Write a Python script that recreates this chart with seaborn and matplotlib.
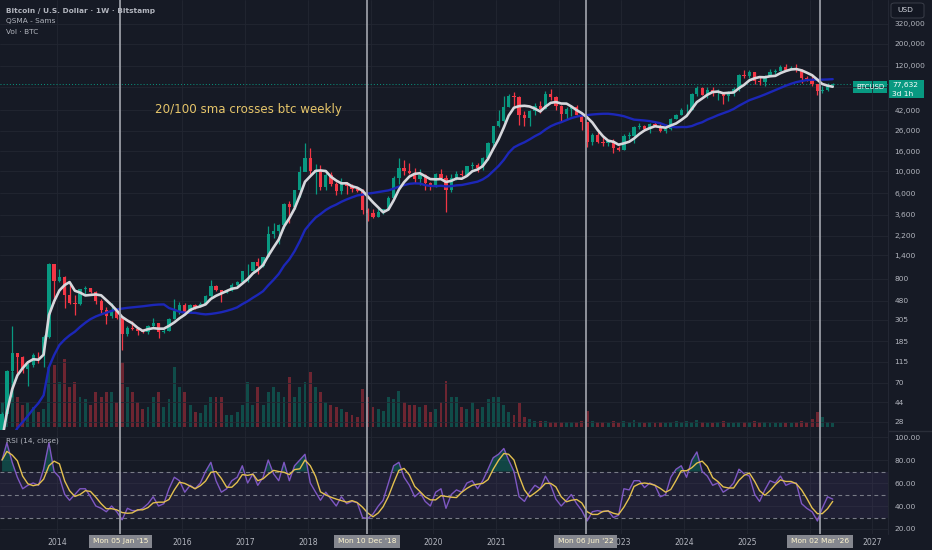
import numpy as np
import pandas as pd
import matplotlib
matplotlib.use('Agg')
import matplotlib.pyplot as plt
import matplotlib.dates as mdates
from matplotlib.patches import Rectangle, FancyBboxPatch
from matplotlib.lines import Line2D
from matplotlib.ticker import NullLocator
import seaborn as sns

# ---------------- data (monthly) ----------------
# monthly closes from Jan 2011 (warm-up for the moving averages) to May 2026
close_2011 = [0.52, 0.86, 0.78, 3.5, 8.7, 16.1, 13.4, 8.2, 5.1, 3.2, 3.0, 4.7]
close_2012 = [5.5, 4.9, 4.9, 5.0, 5.2, 6.7, 9.3, 10.2, 12.4, 11.2, 12.6, 13.5]
close_2013 = [20.4, 33.4, 93, 139, 129, 97, 106, 135, 133, 204, 1130, 757]
close_2014 = [830, 550, 450, 445, 630, 640, 585, 480, 387, 338, 378, 320]
close_2015 = [217, 254, 244, 236, 230, 264, 284, 230, 236, 314, 377, 430]
close_2016 = [369, 437, 416, 448, 531, 673, 624, 575, 608, 698, 742, 963]
close_2017 = [970, 1190, 1080, 1350, 2300, 2480, 2875, 4700, 4340, 6470, 9950, 13800]
close_2018 = [10200, 10330, 6930, 9240, 7490, 6390, 7730, 7030, 6630, 6370, 4020, 3740]
close_2019 = [3460, 3850, 4100, 5320, 8560, 10800, 10080, 9600, 8300, 9150, 7550, 7190]
close_2020 = [9350, 8540, 6420, 8630, 9450, 9140, 11350, 11660, 10780, 13800, 19700, 28950]
close_2021 = [33100, 45200, 58800, 57700, 37300, 35000, 41500, 47100, 43800, 61300, 57000, 46200]
close_2022 = [38500, 43200, 45500, 37700, 31800, 19900, 23300, 20050, 19430, 20500, 17170, 16550]
close_2023 = [23140, 23150, 28480, 29250, 27220, 30480, 29230, 25930, 26970, 34650, 37720, 42270]
close_2024 = [42580, 61180, 71290, 60640, 67500, 62680, 64620, 58970, 63330, 70220, 96450, 93430]
close_2025 = [102400, 84350, 82550, 94200, 104600, 107100, 115700, 108200, 114000, 109500, 90400, 87500]
close_2026 = [78600, 66000, 68200, 75500, 77632]

# monthly highs / lows of the drawn candles, Feb 2013 .. May 2026
high_2013 = [35, 95, 266, 140, 130, 110, 140, 145, 215, 1160, 1150]
low_2013 = [20, 33, 50, 80, 88, 65, 100, 110, 100, 200, 450]
high_2014 = [1000, 850, 700, 550, 630, 680, 650, 600, 500, 415, 460, 390]
low_2014 = [750, 400, 440, 340, 430, 560, 575, 440, 360, 275, 320, 310]
high_2015 = [320, 265, 300, 260, 245, 270, 320, 285, 245, 320, 500, 465]
low_2015 = [150, 210, 240, 215, 225, 218, 255, 198, 225, 235, 310, 350]
high_2016 = [460, 445, 440, 470, 550, 780, 700, 620, 630, 720, 760, 975]
low_2016 = [350, 365, 395, 412, 440, 525, 600, 470, 570, 600, 680, 740]
high_2017 = [1150, 1200, 1300, 1350, 2760, 2980, 2920, 4770, 5000, 6500, 11400, 19650]
low_2017 = [750, 920, 900, 1060, 1350, 2080, 1800, 2670, 2950, 4100, 5520, 10000]
high_2018 = [17200, 11800, 11700, 9750, 9950, 7780, 8500, 7750, 7400, 7000, 6550, 4250]
low_2018 = [9000, 5900, 6450, 6500, 7050, 5750, 5850, 5850, 6120, 6200, 3650, 3120]
high_2019 = [4100, 4200, 4150, 5600, 9000, 13800, 13200, 12300, 10900, 10500, 9500, 7750]
low_2019 = [3350, 3400, 3680, 4080, 5300, 7450, 9100, 9350, 7700, 7300, 6500, 6450]
high_2020 = [9570, 10500, 9180, 9450, 10050, 10400, 11450, 12470, 12070, 14000, 19900, 29300]
low_2020 = [6880, 8450, 3850, 6150, 8100, 8900, 8950, 10600, 9900, 10400, 13200, 17600]
high_2021 = [41950, 58300, 61700, 64900, 59500, 41300, 42300, 50500, 52900, 67000, 69000, 59000]
low_2021 = [28150, 32300, 45000, 47000, 30000, 28800, 29300, 37700, 39600, 43300, 53300, 42000]
high_2022 = [47900, 45800, 48200, 47400, 39900, 31900, 24700, 25200, 22800, 21000, 21500, 18400]
low_2022 = [32900, 34300, 37200, 37600, 26700, 17600, 18800, 19600, 18150, 18200, 15500, 16250]
high_2023 = [23950, 25250, 29200, 31000, 29800, 31400, 31800, 30200, 27500, 35200, 38400, 44700]
low_2023 = [16500, 21400, 19550, 26950, 25800, 24800, 28900, 25150, 24900, 26550, 34100, 37600]
high_2024 = [49000, 63900, 73800, 72800, 71950, 72000, 70000, 65100, 66500, 73600, 99600, 108300]
low_2024 = [38500, 41900, 59100, 59600, 56500, 58400, 53500, 49000, 52550, 58900, 66800, 90500]
high_2025 = [109300, 102500, 95000, 95700, 112000, 110500, 123200, 124400, 117900, 126200, 111000, 94600]
low_2025 = [89200, 78200, 76600, 74400, 93400, 98200, 105100, 107300, 107300, 103500, 80600, 84400]
high_2026 = [97500, 79000, 74500, 80000, 80500]
low_2026 = [75000, 60000, 63000, 66000, 74000]

# volume (relative bar height), Feb 2013 .. May 2026
vol_2013 = [25, 40, 55, 30, 22, 25, 20, 15, 18, 60, 62]
vol_2014 = [45, 68, 40, 45, 30, 28, 22, 35, 30, 35, 35, 25]
vol_2015 = [65, 40, 35, 25, 18, 20, 30, 35, 20, 28, 60, 40]
vol_2016 = [35, 22, 15, 14, 22, 30, 30, 30, 12, 12, 15, 22]
vol_2017 = [45, 22, 40, 22, 35, 40, 35, 30, 50, 30, 40, 45]
vol_2018 = [55, 40, 35, 25, 22, 20, 18, 15, 12, 10, 38, 30]
vol_2019 = [20, 18, 16, 30, 28, 36, 25, 22, 22, 20, 22, 15]
vol_2020 = [18, 25, 46, 30, 30, 20, 18, 25, 18, 20, 28, 30]
vol_2021 = [30, 22, 15, 12, 24, 10, 8, 6, 6, 6, 5, 5]
vol_2022 = [5, 5, 5, 5, 6, 16, 6, 5, 5, 4, 6, 4]
vol_2023 = [6, 5, 7, 5, 4, 5, 4, 5, 4, 5, 6, 5]
vol_2024 = [6, 5, 7, 5, 4, 4, 5, 6, 4, 4, 5, 5]
vol_2025 = [5, 6, 5, 5, 4, 4, 4, 4, 4, 5, 6, 5]
vol_2026 = [8, 15, 10, 5, 4]

# RSI(14) values, Feb 2013 .. May 2026
rsi_2013 = [80, 95, 78, 65, 55, 58, 60, 58, 72, 95, 70]
rsi_2014 = [65, 50, 45, 50, 55, 55, 48, 40, 38, 35, 40, 35]
rsi_2015 = [28, 38, 36, 36, 38, 42, 48, 40, 42, 55, 65, 62]
rsi_2016 = [52, 58, 55, 60, 70, 78, 62, 52, 55, 62, 65, 75]
rsi_2017 = [60, 68, 58, 65, 80, 68, 62, 78, 62, 75, 80, 85]
rsi_2018 = [60, 52, 45, 52, 46, 40, 48, 42, 44, 43, 30, 29]
rsi_2019 = [33, 40, 45, 60, 75, 78, 65, 58, 48, 52, 44, 40]
rsi_2020 = [52, 55, 38, 50, 54, 52, 60, 62, 55, 62, 72, 82]
rsi_2021 = [85, 90, 80, 70, 48, 44, 52, 58, 55, 66, 58, 46]
rsi_2022 = [40, 45, 50, 42, 36, 27, 35, 36, 35, 36, 30, 32]
rsi_2023 = [55, 54, 62, 62, 56, 60, 58, 48, 50, 65, 72, 75]
rsi_2024 = [65, 80, 87, 70, 66, 58, 60, 52, 55, 60, 72, 68]
rsi_2025 = [66, 50, 44, 54, 62, 60, 66, 58, 60, 60, 42, 38]
rsi_2026 = [35, 27, 38, 48, 46]

price_ticks = [28, 44, 70, 115, 185, 305, 480, 800, 1400, 2200, 3600, 6000,
               10000, 16000, 26000, 42000, 72000, 120000, 200000, 320000]
rsi_ticks = [20, 40, 60, 80, 100]
year_ticks = list(range(2014, 2028))
hidden_years = [2015, 2019, 2022, 2026]   # covered by the date boxes
marker_dates = ['2015-01-05', '2018-12-10', '2022-06-06', '2026-03-02']
marker_labels = ["Mon 05 Jan '15", "Mon 10 Dec '18", "Mon 06 Jun '22", "Mon 02 Mar '26"]
last_price = 77632

# ---------------- assemble ----------------
close_all = (close_2011 + close_2012 + close_2013 + close_2014 + close_2015 + close_2016 +
             close_2017 + close_2018 + close_2019 + close_2020 + close_2021 + close_2022 +
             close_2023 + close_2024 + close_2025 + close_2026)
highs = (high_2013 + high_2014 + high_2015 + high_2016 + high_2017 + high_2018 + high_2019 +
         high_2020 + high_2021 + high_2022 + high_2023 + high_2024 + high_2025 + high_2026)
lows = (low_2013 + low_2014 + low_2015 + low_2016 + low_2017 + low_2018 + low_2019 +
        low_2020 + low_2021 + low_2022 + low_2023 + low_2024 + low_2025 + low_2026)
vols = (vol_2013 + vol_2014 + vol_2015 + vol_2016 + vol_2017 + vol_2018 + vol_2019 +
        vol_2020 + vol_2021 + vol_2022 + vol_2023 + vol_2024 + vol_2025 + vol_2026)
rsi = (rsi_2013 + rsi_2014 + rsi_2015 + rsi_2016 + rsi_2017 + rsi_2018 + rsi_2019 +
       rsi_2020 + rsi_2021 + rsi_2022 + rsi_2023 + rsi_2024 + rsi_2025 + rsi_2026)

months = pd.date_range('2011-01-01', periods=len(close_all), freq='MS') + pd.Timedelta(days=14)
close_s = pd.Series(close_all, index=months, dtype=float)
sma20 = close_s.rolling(5).mean()     # 20 weeks ~ 5 months
sma100 = close_s.rolling(23).mean()   # 100 weeks ~ 23 months

start = 25  # Feb 2013
cdates = months[start:]
closes = np.array(close_all[start:], dtype=float)
opens = np.array(close_all[start - 1:-1], dtype=float)
highs = np.array(highs, dtype=float)
lows = np.array(lows, dtype=float)
vols = np.array(vols, dtype=float)
rsi_s = pd.Series(rsi, index=cdates, dtype=float)
rsi_ma = rsi_s.rolling(3, min_periods=1).mean()

df_sma = pd.DataFrame({'date': months, 'sma20': sma20.values, 'sma100': sma100.values})
df_rsi = pd.DataFrame({'date': cdates, 'rsi': rsi_s.values, 'ma': rsi_ma.values})

# ---------------- style ----------------
BG = '#161a25'
GRID = '#222632'
TXT = '#b2b5be'
GREEN = '#089981'
RED = '#f23645'
W, H = 932, 550

sns.set_theme(style='dark', rc={'axes.facecolor': BG, 'figure.facecolor': BG})
plt.rcParams['font.family'] = ['DejaVu Sans']

fig = plt.figure(figsize=(W / 100, H / 100), dpi=100, facecolor=BG)

def fx(x):
    return x / W

def fy(y):
    return 1 - y / H

ax = fig.add_axes([0, fy(430), fx(888), 430 / H])
ax_rsi = fig.add_axes([0, fy(534), fx(888), 104 / H], sharex=ax)
ax_vol = ax.twinx()
ax_vol.set_zorder(1)
ax.set_zorder(2)
ax_rsi.set_zorder(2)
for a in (ax, ax_vol):
    a.patch.set_visible(False)
ax_rsi.set_facecolor(BG)

xmin = mdates.date2num(pd.Timestamp('2013-02-03'))
xmax = mdates.date2num(pd.Timestamp('2027-04-02'))

# ---- volume ----
up = closes >= opens
vcolors = [GREEN if u else RED for u in up]
ax_vol.bar(cdates, vols, width=17, color=vcolors, alpha=0.4, linewidth=0)
ax_vol.set_ylim(-3, 427)
ax_vol.set_yticks([])
ax_vol.grid(False)

# ---- candles ----
ccolors = [GREEN if u else RED for u in up]
ax.vlines(cdates, lows, highs, colors=ccolors, linewidth=0.9, zorder=3)
body_bottom = np.minimum(opens, closes)
body_h = np.maximum(np.abs(closes - opens), body_bottom * 0.01)
ax.bar(cdates, body_h, bottom=body_bottom, width=19, color=ccolors, linewidth=0, zorder=3)

# ---- moving averages ----
sns.lineplot(data=df_sma, x='date', y='sma100', ax=ax, color='#1c27b8', linewidth=1.7,
             legend=False, zorder=4)
sns.lineplot(data=df_sma, x='date', y='sma20', ax=ax, color='#d6d7dc', linewidth=1.9,
             legend=False, zorder=5)

ax.set_yscale('log')
ax.set_ylim(23, 562000)
ax.set_xlim(xmin, xmax)
ax.axhline(last_price, color=GREEN, linestyle=(0, (1, 2.2)), linewidth=0.7, zorder=2)

ax.yaxis.set_minor_locator(NullLocator())
ax.set_yticks(price_ticks)
ax.set_yticklabels(['' if t == 72000 else f'{t:,}' for t in price_ticks])
ax.yaxis.tick_right()
ax.tick_params(axis='y', colors=TXT, labelsize=5.4, length=0, pad=4.5)
ax.set_xticks([mdates.date2num(pd.Timestamp(f'{y}-01-01')) for y in year_ticks])
ax.tick_params(axis='x', labelbottom=False, length=0)
ax.grid(True, color=GRID, linewidth=0.6)
ax.set_xlabel('')
ax.set_ylabel('')
for s in ax.spines.values():
    s.set_visible(False)
for s in ax_vol.spines.values():
    s.set_visible(False)

# ---- RSI ----
ax_rsi.axhspan(30, 70, color='#7e57c2', alpha=0.1, linewidth=0, zorder=1)
for lvl in (70, 50, 30):
    ax_rsi.axhline(lvl, color='#787b86', linewidth=0.8, linestyle=(0, (3.5, 3)), zorder=2)
rv = rsi_s.values
ax_rsi.fill_between(cdates, rv, 70, where=rv > 70, interpolate=True, color=GREEN,
                    alpha=0.35, linewidth=0, zorder=2)
ax_rsi.fill_between(cdates, rv, 30, where=rv < 30, interpolate=True, color=RED,
                    alpha=0.3, linewidth=0, zorder=2)
sns.lineplot(data=df_rsi, x='date', y='rsi', ax=ax_rsi, color='#7e57c2', linewidth=1.0,
             legend=False, zorder=3)
sns.lineplot(data=df_rsi, x='date', y='ma', ax=ax_rsi, color='#e3c04f', linewidth=1.0,
             legend=False, zorder=4)
ax_rsi.set_ylim(15.65, 106.1)
ax_rsi.set_xlim(xmin, xmax)
ax_rsi.set_yticks(rsi_ticks)
ax_rsi.set_yticklabels([f'{t:.2f}' for t in rsi_ticks])
ax_rsi.yaxis.tick_right()
ax_rsi.tick_params(axis='y', colors=TXT, labelsize=5.4, length=0, pad=4.5)
ax_rsi.set_xticks([mdates.date2num(pd.Timestamp(f'{y}-01-01')) for y in year_ticks])
ax_rsi.set_xticklabels(['' if y in hidden_years else str(y) for y in year_ticks])
ax_rsi.tick_params(axis='x', colors=TXT, labelsize=5.6, length=0, pad=3.2)
ax_rsi.grid(True, color=GRID, linewidth=0.6)
ax_rsi.set_xlabel('')
ax_rsi.set_ylabel('')
for s in ax_rsi.spines.values():
    s.set_visible(False)

# ---- vertical marker lines ----
for d, lab in zip(marker_dates, marker_labels):
    xd = mdates.date2num(pd.Timestamp(d))
    ax.axvline(xd, color='#a3a6ae', linewidth=1.2, zorder=6)
    ax_rsi.axvline(xd, color='#a3a6ae', linewidth=1.2, zorder=6)
    ax_rsi.annotate(lab, xy=(xd, 0), xycoords=ax_rsi.get_xaxis_transform(),
                    xytext=(0, -5.3), textcoords='offset points', ha='center', va='center',
                    fontsize=5.4, color='#fff6d0', annotation_clip=False, zorder=10,
                    bbox=dict(boxstyle='square,pad=0.5', fc='#85878f', ec='none'))

# ---- separators ----
fig.add_artist(Line2D([0, 1], [fy(430.5), fy(430.5)], transform=fig.transFigure,
                      color='#2a2e39', linewidth=1.0))
fig.add_artist(Line2D([fx(888), fx(888)], [fy(0), fy(534)], transform=fig.transFigure,
                      color='#232733', linewidth=0.8))

# ---- labels / boxes ----
fig.text(fx(6), fy(10.5), 'Bitcoin / U.S. Dollar · 1W · Bitstamp', fontsize=5.3,
         color=TXT, fontweight='bold', va='center', ha='left')
fig.text(fx(6), fy(21.5), 'QSMA - Sams', fontsize=5.3, color=TXT, va='center', ha='left')
fig.text(fx(6), fy(32), 'Vol · BTC', fontsize=5.3, color=TXT, va='center', ha='left')
fig.text(fx(6), fy(441), 'RSI (14, close)', fontsize=5.3, color=TXT, va='center', ha='left')
fig.text(fx(155), fy(110), '20/100 sma crosses btc weekly', fontsize=8.6, color='#e6c56a',
         va='center', ha='left')

fig.add_artist(Rectangle((fx(853), fy(93)), fx(34), 12 / H, transform=fig.transFigure,
                         facecolor=GREEN, edgecolor='none'))
fig.text(fx(870), fy(87), 'BTCUSD', fontsize=5.0, color='white', ha='center', va='center')
fig.add_artist(Rectangle((fx(889), fy(98)), fx(35), 18 / H, transform=fig.transFigure,
                         facecolor=GREEN, edgecolor='none'))
fig.text(fx(892), fy(85), f'{last_price:,}', fontsize=5.4, color='white', ha='left', va='center')
fig.text(fx(892), fy(93.5), '3d 1h', fontsize=5.4, color='white', ha='left', va='center')

fig.add_artist(FancyBboxPatch((fx(891), fy(18)), fx(33), 15 / H,
                              boxstyle='round,pad=0,rounding_size=0.004',
                              transform=fig.transFigure, facecolor='#131722',
                              edgecolor='#3a3e49', linewidth=0.7))
fig.text(fx(897), fy(10.5), 'USD', fontsize=5.4, color='#d1d4dc', ha='left', va='center')

fig.savefig('out.png', dpi=100, facecolor=BG)
